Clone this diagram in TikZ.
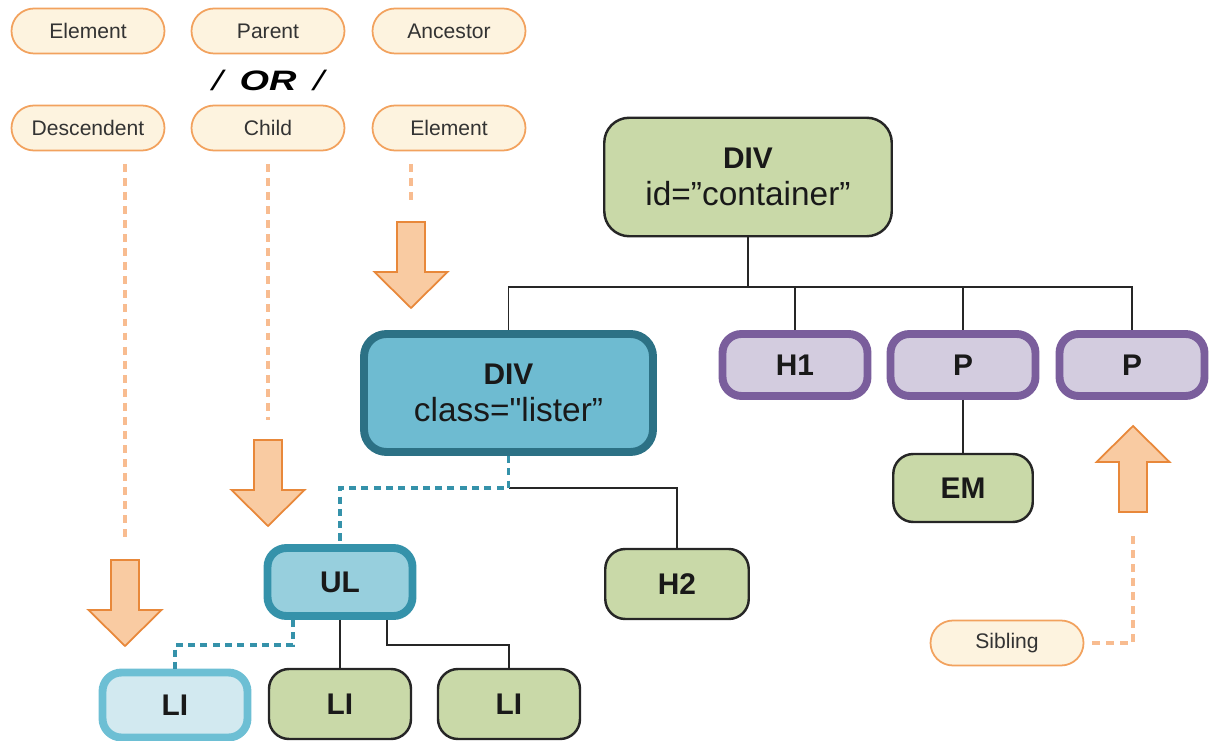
\documentclass[tikz,border=0pt]{standalone}
\usepackage{fontspec}
\setmainfont{Liberation Sans}
\newfontfamily\orfont[FakeStretch=1.35]{Liberation Sans}
\usetikzlibrary{positioning, calc}
\definecolor{pillfill}{HTML}{FDF3DF}
\definecolor{pillline}{HTML}{F2A25E}
\definecolor{dotorange}{HTML}{F8BC90}
\definecolor{arrowfill}{HTML}{F9CBA2}
\definecolor{arrowline}{HTML}{E8883A}
\definecolor{leaf}{HTML}{C9D9A8}
\definecolor{tealfill}{HTML}{6EBBD1}
\definecolor{tealline}{HTML}{2C7185}
\definecolor{ulfill}{HTML}{97CFDD}
\definecolor{ulline}{HTML}{3592AA}
\definecolor{lifill}{HTML}{D2E9F0}
\definecolor{liline}{HTML}{6DBFD4}
\definecolor{purfill}{HTML}{D3CCDF}
\definecolor{purline}{HTML}{7A5E9C}
\tikzstyle{pill} = [rectangle, rounded corners=0.45cm, draw=pillline, line width=1pt, fill=pillfill, minimum width=3.06cm, minimum height=0.9cm, text=black!80, font=\fontsize{12}{14}\selectfont]
\tikzstyle{greenbox} = [rectangle, rounded corners=0.4cm, draw=black!85, line width=1.4pt, fill=leaf, minimum width=2.84cm, minimum height=1.36cm, text=black!90, font=\fontsize{17}{21}\selectfont\bfseries, align=center]
\tikzstyle{thickbox} = [rectangle, rounded corners=0.38cm, line width=4.5pt, minimum width=2.9cm, minimum height=1.24cm, text=black!90, font=\fontsize{17}{21}\selectfont\bfseries, align=center]
\tikzstyle{treeline} = [draw=black!85, line width=1.1pt]
\tikzstyle{dashline} = [draw=ulline, line width=2.2pt, dash pattern=on 4pt off 3pt]
\tikzstyle{dotline} = [draw=dotorange, line width=2.2pt, dash pattern=on 4.5pt off 3.5pt]
\tikzstyle{bigarrow} = [draw=arrowline, line width=1pt, fill=arrowfill, line join=miter]
\newcommand{\blockarrow}[2]{%
  \begin{scope}[shift={(#1)}, yscale=#2]
    \draw[bigarrow] (-0.28,0) -- (-0.28,-1.0) -- (-0.73,-1.0) -- (0,-1.72) -- (0.73,-1.0) -- (0.28,-1.0) -- (0.28,0) -- cycle;
  \end{scope}}
\newcommand{\attrline}{\mdseries\fontsize{19}{21}\selectfont}

\begin{document}
\begin{tikzpicture}
    \useasboundingbox (0,0) rectangle (24.2,-14.82);

    % Selector labels
    \node (elem1) [pill] at (1.76,-0.62) {Element};
    \node (parent) [pill] at (5.36,-0.62) {Parent};
    \node (ancestor) [pill] at (8.98,-0.62) {Ancestor};
    \node (orsep) at (5.36,-1.6) {\orfont\fontsize{16}{18}\selectfont\itshape /\hspace{0.6em}\textbf{OR}\hspace{0.6em}/};
    \node (descend) [pill] at (1.76,-2.56) {Descendent};
    \node (child) [pill] at (5.36,-2.56) {Child};
    \node (elem2) [pill] at (8.98,-2.56) {Element};
    \node (sibling) [pill] at (20.14,-12.86) {Sibling};

    % Tree
    \node (divc) [greenbox, minimum width=5.75cm, minimum height=2.37cm, rounded corners=0.5cm] at (14.96,-3.54) {DIV\\\attrline id=”container”};
    \node (divl) [thickbox, draw=tealline, fill=tealfill, minimum width=5.78cm, minimum height=2.36cm, rounded corners=0.45cm] at (10.17,-7.86) {DIV\\\attrline class=\textquotedbl lister”};
    \node (h1) [thickbox, draw=purline, fill=purfill] at (15.9,-7.3) {H1};
    \node (p1) [thickbox, draw=purline, fill=purfill] at (19.26,-7.3) {P};
    \node (p2) [thickbox, draw=purline, fill=purfill] at (22.64,-7.3) {P};
    \node (em) [greenbox, minimum width=2.79cm] at (19.26,-9.76) {EM};
    \node (h2) [greenbox, minimum width=2.87cm, minimum height=1.4cm] at (13.54,-11.68) {H2};
    \node (ul) [thickbox, draw=ulline, fill=ulfill, minimum height=1.36cm] at (6.8,-11.64) {UL};
    \node (li1) [thickbox, draw=liline, fill=lifill, minimum height=1.3cm] at (3.5,-14.1) {LI};
    \node (li2) [greenbox, minimum height=1.4cm] at (6.8,-14.08) {LI};
    \node (li3) [greenbox, minimum height=1.4cm] at (10.18,-14.08) {LI};

    \coordinate (bar) at (0,-5.74);
    \coordinate (lvl2) at (0,-9.76);
    \coordinate (lvl3) at (0,-12.9);

    % Connections
    \draw[treeline] (divc.south) -- (divc.south |- bar);
    \draw[treeline] (divl.north) -- (divl.north |- bar) -| (p2.north);
    \draw[treeline] (h1.north) -- (h1.north |- bar);
    \draw[treeline] (p1.north) -- (p1.north |- bar);
    \draw[treeline] (p1.south) -- (em.north);
    \draw[treeline] (divl.south |- lvl2) -| (h2.north);
    \draw[dashline] (divl.south) -- (divl.south |- lvl2) -| (ul.north);
    \draw[treeline] (ul.south) -- (li2.north);
    \draw[treeline] ([xshift=0.94cm]ul.south) -- ([xshift=0.94cm]ul.south |- lvl3) -| (li3.north);
    \draw[dashline] ([xshift=-0.94cm]ul.south) -- ([xshift=-0.94cm]ul.south |- lvl3) -| (li1.north);

    % Pointer arrows
    \coordinate (arrA) at (2.5,-11.2);
    \coordinate (arrB) at (5.36,-8.8);
    \coordinate (arrC) at (8.22,-4.44);
    \coordinate (arrD) at (22.66,-10.24);
    \draw[dotline, shorten <=0.25cm, shorten >=0.4cm] (descend.south -| arrA) -- (arrA);
    \draw[dotline, shorten <=0.25cm, shorten >=0.4cm] (child.south -| arrB) -- (arrB);
    \draw[dotline, shorten <=0.25cm, shorten >=0.34cm] (elem2.south -| arrC) -- (arrC);
    \draw[dotline, shorten <=0.15cm, shorten >=0.46cm] (sibling.east) -| (arrD);
    \blockarrow{arrA}{1}
    \blockarrow{arrB}{1}
    \blockarrow{arrC}{1}
    \blockarrow{arrD}{-1}
\end{tikzpicture}
\end{document}
